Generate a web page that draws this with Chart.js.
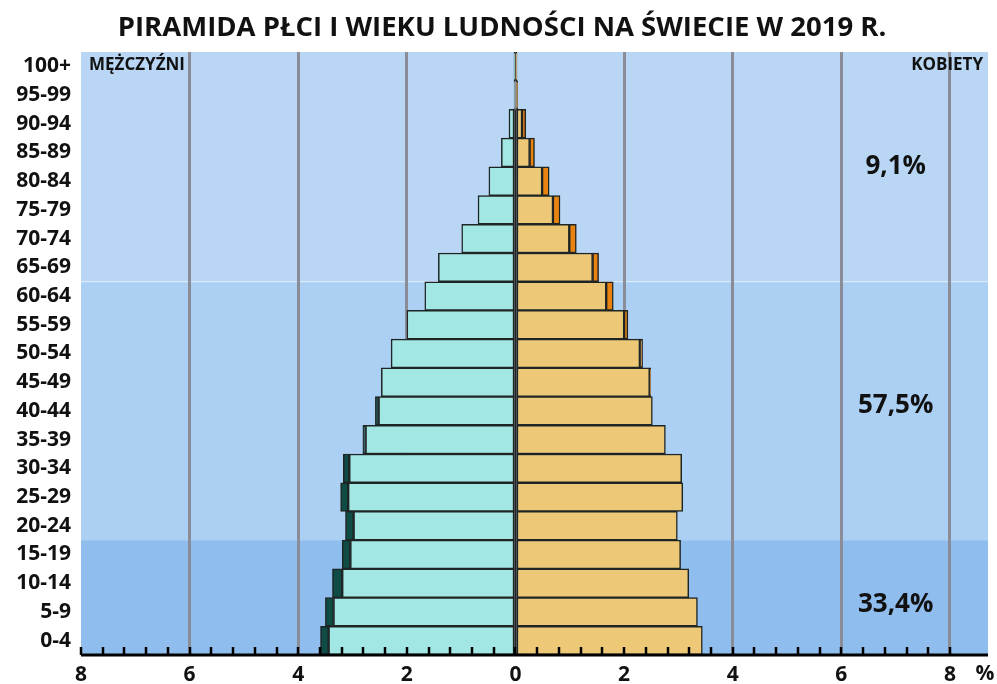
<!DOCTYPE html>
<html lang="pl">
<head>
<meta charset="utf-8">
<title>Piramida płci i wieku ludności na świecie w 2019 r.</title>
<script src="https://cdn.jsdelivr.net/npm/chart.js@4.4.1/dist/chart.umd.min.js"></script>
<style>
  html, body { margin: 0; padding: 0; background: #ffffff; }
  #wrap { width: 997px; height: 684px; }
</style>
</head>
<body>
<div id="wrap"><canvas id="pyramid" width="997" height="684"></canvas></div>
<script>
/* ── Data: share of world population (%) by age group, 2019 ── */
const AGE_GROUPS = ['100+', '95-99', '90-94', '85-89', '80-84', '75-79', '70-74', '65-69',
  '60-64', '55-59', '50-54', '45-49', '40-44', '35-39', '30-34', '25-29', '20-24',
  '15-19', '10-14', '5-9', '0-4'];

const MALE   = [0.005, 0.02, 0.12, 0.26, 0.49, 0.69, 0.99, 1.42, 1.67, 2.00, 2.29,
  2.47, 2.58, 2.81, 3.17, 3.22, 3.13, 3.19, 3.37, 3.50, 3.59];
const FEMALE = [0.01, 0.04, 0.19, 0.35, 0.62, 0.82, 1.12, 1.53, 1.80, 2.07, 2.34,
  2.49, 2.52, 2.76, 3.06, 3.08, 2.98, 3.04, 3.19, 3.35, 3.44];

const BAND_SHARES = ['9,1%', '57,5%', '33,4%'];
const SIDE_LABELS = ['MĘŻCZYŹNI', 'KOBIETY'];
const TITLE = 'PIRAMIDA PŁCI I WIEKU LUDNOŚCI NA ŚWIECIE W 2019 R.';

const X_MIN = -8, X_MAX = 8.7, X_STEP = 0.4, X_MAJOR = 2;

const COLORS = {
  male: '#a2e7e3',
  maleExcess: '#0e4c45',
  female: '#edc977',
  femaleExcess: '#e8830f',
  border: '#1f2424',
  grid: '#8a8c98',
  bandOld: '#b9d7f5',
  bandWork: '#acd0f4',
  bandYoung: '#8ebdee',
  text: '#111111',
};

const FONT = "'Open Sans', 'Noto Sans', sans-serif";

/* derived stacks: common part + surplus of one sex */
const common = MALE.map((m, i) => Math.min(m, FEMALE[i]));
const maleSurplus = MALE.map((m, i) => (m > FEMALE[i] ? -(m - FEMALE[i]) : null));
const femaleSurplus = FEMALE.map((f, i) => (f > MALE[i] ? f - MALE[i] : null));

const isMajor = (v) => Math.abs(v / X_MAJOR - Math.round(v / X_MAJOR)) < 1e-6;
const onStep = (v) => Math.abs(v / X_STEP - Math.round(v / X_STEP)) < 1e-6;

/* ── background bands (65+, 20-64, 0-19) ── */
const bandPlugin = {
  id: 'bands',
  beforeDraw(chart) {
    const { ctx, chartArea: a, scales: { y } } = chart;
    const edge = (i) => (y.getPixelForValue(i) + y.getPixelForValue(i + 1)) / 2;
    const b1 = edge(AGE_GROUPS.indexOf('65-69'));
    const b2 = edge(AGE_GROUPS.indexOf('20-24'));
    ctx.save();
    ctx.fillStyle = COLORS.bandOld;
    ctx.fillRect(a.left, a.top, a.right - a.left, b1 - a.top);
    ctx.fillStyle = COLORS.bandWork;
    ctx.fillRect(a.left, b1, a.right - a.left, b2 - b1);
    ctx.fillStyle = COLORS.bandYoung;
    ctx.fillRect(a.left, b2, a.right - a.left, a.bottom - b2);
    ctx.fillStyle = 'rgba(255,255,255,0.5)';
    ctx.fillRect(a.left, b1 - 0.5, a.right - a.left, 1);
    ctx.restore();
  },
  // dark centre line where the two halves of the pyramid meet
  afterDatasetsDraw(chart) {
    const { ctx, chartArea: a, scales: { x, y } } = chart;
    const first = common.findIndex((v) => v >= 0.1);
    const half = (y.getPixelForValue(1) - y.getPixelForValue(0)) / 2;
    const px = x.getPixelForValue(0);
    ctx.save();
    ctx.strokeStyle = COLORS.border;
    ctx.lineWidth = 2;
    ctx.beginPath();
    ctx.moveTo(px, y.getPixelForValue(first) - half);
    ctx.lineTo(px, a.bottom);
    ctx.stroke();
    ctx.restore();
  }
};

/* ── axis line with inward ticks + annotations ── */
const overlayPlugin = {
  id: 'overlay',
  afterDraw(chart) {
    const { ctx, chartArea: a, scales: { x, y } } = chart;
    ctx.save();
    // axis line
    ctx.strokeStyle = '#000';
    ctx.lineWidth = 3;
    ctx.beginPath();
    ctx.moveTo(a.left, a.bottom);
    ctx.lineTo(a.right, a.bottom);
    ctx.stroke();
    // ticks pointing up
    ctx.lineWidth = 2.5;
    x.ticks.forEach((t) => {
      if (!onStep(t.value)) return;
      const px = Math.round(x.getPixelForValue(t.value));
      ctx.beginPath();
      ctx.moveTo(px, a.bottom);
      ctx.lineTo(px, a.bottom - 8);
      ctx.stroke();
    });
    ctx.fillStyle = COLORS.text;
    // percent sign after axis
    ctx.font = `bold 21px ${FONT}`;
    ctx.textAlign = 'center';
    ctx.textBaseline = 'middle';
    ctx.fillText('%', a.right - 3, a.bottom + 19);
    // side labels
    ctx.font = `bold 17px ${FONT}`;
    ctx.textAlign = 'left';
    ctx.fillText(SIDE_LABELS[0], a.left + 8, a.top + 13);
    ctx.textAlign = 'right';
    ctx.fillText(SIDE_LABELS[1], a.right - 5, a.top + 13);
    // band shares
    ctx.font = `bold 26px ${FONT}`;
    ctx.textAlign = 'center';
    const sx = x.getPixelForValue(7.0);
    ctx.fillText(BAND_SHARES[0], sx, y.getPixelForValue(3.5));
    ctx.fillText(BAND_SHARES[1], sx, y.getPixelForValue(11.8));
    ctx.fillText(BAND_SHARES[2], sx, y.getPixelForValue(18.75));
    ctx.restore();
  }
};

const barStyle = { borderColor: COLORS.border, borderWidth: 1.5, borderSkipped: false,
  barPercentage: 1, categoryPercentage: 1, stack: 'pop' };

new Chart(document.getElementById('pyramid'), {
  type: 'bar',
  data: {
    labels: AGE_GROUPS,
    datasets: [
      { label: 'Mężczyźni', data: common.map((v) => -v), backgroundColor: COLORS.male, ...barStyle },
      { label: 'Nadwyżka mężczyzn', data: maleSurplus, backgroundColor: COLORS.maleExcess, ...barStyle },
      { label: 'Kobiety', data: common, backgroundColor: COLORS.female, ...barStyle },
      { label: 'Nadwyżka kobiet', data: femaleSurplus, backgroundColor: COLORS.femaleExcess, ...barStyle },
    ]
  },
  options: {
    indexAxis: 'y',
    responsive: false,
    animation: false,
    devicePixelRatio: 1,
    layout: { padding: { left: 16, right: 9, top: 0, bottom: 0 } },
    plugins: {
      legend: { display: false },
      tooltip: { enabled: false },
      title: {
        display: true,
        text: TITLE,
        color: COLORS.text,
        font: { family: FONT, size: 27.5, weight: 'bold' },
        padding: { top: 12, bottom: 7 },
      },
    },
    scales: {
      x: {
        stacked: true,
        min: X_MIN,
        max: X_MAX,
        afterFit(scale) { scale.height = 29; },
        ticks: {
          stepSize: X_STEP,
          autoSkip: false,
          maxRotation: 0,
          padding: 7,
          color: COLORS.text,
          font: { family: FONT, size: 21, weight: 'bold' },
          callback: (v) => (isMajor(v) ? String(Math.abs(Math.round(v))) : ''),
        },
        grid: {
          drawTicks: false,
          lineWidth: 3,
          color: (c) => (c.tick && isMajor(c.tick.value) && c.tick.value > X_MIN ? COLORS.grid : 'rgba(0,0,0,0)'),
        },
        border: { display: false },
      },
      y: {
        stacked: true,
        afterFit(scale) { scale.width = 65; },
        grid: { display: false, drawTicks: false },
        border: { display: false },
        ticks: {
          padding: 10,
          color: COLORS.text,
          font: { family: FONT, size: 21, weight: 'bold' },
        },
      },
    },
  },
  plugins: [bandPlugin, overlayPlugin],
});
</script>
</body>
</html>
